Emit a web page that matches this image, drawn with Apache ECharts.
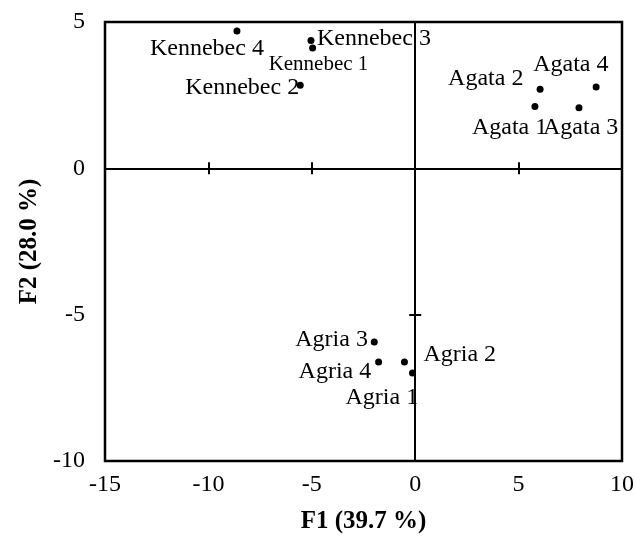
<!DOCTYPE html>
<html>
<head>
<meta charset="utf-8">
<script src="https://cdn.jsdelivr.net/npm/echarts@6/dist/echarts.min.js"></script>
<style>
  html, body { margin: 0; padding: 0; background: #fff; }
  #main { width: 635px; height: 543px; }
</style>
</head>
<body>
<div id="main"></div>
<script>
// observations (F1, F2 scores)
const names = ['Kennebec 4', 'Kennebec 3', 'Kennebec 1', 'Kennebec 2',
  'Agata 2', 'Agata 4', 'Agata 1', 'Agata 3',
  'Agria 3', 'Agria 4', 'Agria 2', 'Agria 1'];
const f1 = [-8.62, -5.04, -4.96, -5.56, 6.04, 8.75, 5.79, 7.92, -1.98, -1.77, -0.52, -0.13];
const f2 = [4.69, 4.37, 4.11, 2.84, 2.70, 2.78, 2.11, 2.07, -5.93, -6.62, -6.62, -6.99];

// label placement (px from the dot to the text's left / middle)
const labelOffsets = [[-87, 18], [6, -2], [-44, 16], [-115, 2],
  [-92, -11], [-63, -22], [-63, 21], [-36, 20],
  [-79, -2], [-80, 10], [19, -7], [-67, 25]];

const serif = '"Liberation Serif", "Times New Roman", serif';
const black = '#000';

const chart = echarts.init(document.getElementById('main'));

const xBase = { type: 'value', min: -15, max: 10, interval: 5, splitLine: { show: false } };
const yBase = { type: 'value', min: -10, max: 5, interval: 5, splitLine: { show: false } };

const zeroLine = { show: true, onZero: true, onZeroAxisIndex: 0, lineStyle: { color: black, width: 2 } };
const tickStyle = { color: black, width: 2 };

const seriesData = names.map(function (n, i) {
  return {
    name: n,
    value: [f1[i], f2[i]],
    label: { fontSize: n === 'Kennebec 1' ? 21 : 24 }
  };
});

chart.setOption({
  animation: false,
  backgroundColor: '#fff',
  grid: {
    left: 105, right: 13, top: 22, bottom: 82,
    show: true, borderColor: black, borderWidth: 2.5,
    containLabel: false, outerBoundsMode: 'none'
  },
  xAxis: [
    Object.assign({}, xBase, {
      position: 'bottom',
      axisLine: { show: false, onZero: false },
      axisTick: { show: false },
      axisLabel: { fontFamily: serif, fontSize: 24, color: black, margin: 12 },
      name: 'F1 (39.7 %)', nameLocation: 'middle', nameGap: 48,
      nameTextStyle: { fontFamily: serif, fontSize: 25, fontWeight: 'bold', color: black }
    }),
    Object.assign({}, xBase, {
      position: 'bottom', axisLine: zeroLine,
      axisTick: { show: true, inside: false, length: 6, lineStyle: tickStyle },
      axisLabel: { show: false }
    }),
    Object.assign({}, xBase, {
      position: 'bottom', axisLine: zeroLine,
      axisTick: { show: true, inside: true, length: 6, lineStyle: tickStyle },
      axisLabel: { show: false }
    })
  ],
  yAxis: [
    Object.assign({}, yBase, {
      position: 'left',
      axisLine: { show: false, onZero: false },
      axisTick: { show: false },
      axisLabel: { fontFamily: serif, fontSize: 24, color: black, margin: 20 },
      name: 'F2 (28.0 %)', nameLocation: 'middle', nameGap: 46,
      nameTextStyle: { fontFamily: serif, fontSize: 25, fontWeight: 'bold', color: black }
    }),
    Object.assign({}, yBase, {
      position: 'left', axisLine: zeroLine,
      axisTick: { show: true, inside: false, length: 6, lineStyle: tickStyle },
      axisLabel: { show: false }
    }),
    Object.assign({}, yBase, {
      position: 'left', axisLine: zeroLine,
      axisTick: { show: true, inside: true, length: 6, lineStyle: tickStyle },
      axisLabel: { show: false }
    })
  ],
  series: [{
    type: 'scatter',
    xAxisIndex: 0,
    yAxisIndex: 0,
    symbol: 'circle',
    symbolSize: 7,
    itemStyle: { color: black, opacity: 1 },
    label: {
      show: true,
      position: 'inside',
      align: 'left',
      verticalAlign: 'middle',
      formatter: '{b}',
      fontFamily: serif,
      color: black
    },
    labelLayout: function (params) {
      const off = labelOffsets[params.dataIndex];
      return { dx: off[0], dy: off[1], hideOverlap: false, moveOverlap: null };
    },
    data: seriesData,
    z: 10
  }]
});
</script>
</body>
</html>
